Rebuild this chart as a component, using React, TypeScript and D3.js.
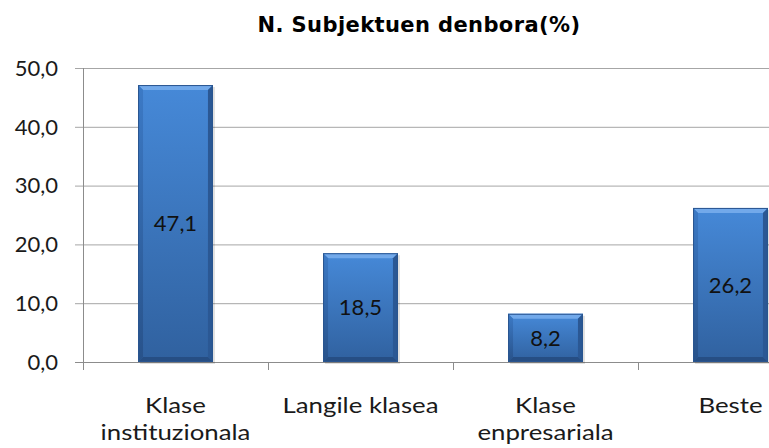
import React, { useEffect } from "react";
import * as d3 from "d3";

const W = 769;
const H = 448;

const title = "N. Subjektuen denbora(%)";
const categories = ["Klase instituzionala", "Langile klasea", "Klase enpresariala", "Beste"];
const categoryLines = [["Klase", "instituzionala"], ["Langile klasea"], ["Klase", "enpresariala"], ["Beste"]];
const values = [47.1, 18.5, 8.2, 26.2];
const yTicks = [0, 10, 20, 30, 40, 50];

const fmt = (v: number) => v.toFixed(1).replace(".", ",");

export default function App() {
  useEffect(() => {
    document.body.style.margin = "0";
  }, []);

  const x = d3.scaleBand<string>().domain(categories).range([83, 823]).paddingInner(0.595).paddingOuter(0.2975);
  const y = d3.scaleLinear().domain([0, 50]).range([362, 68]);
  const step = x.step();
  const bw = x.bandwidth();
  const bev = 5;
  const font = "Lato, Open Sans, sans-serif";

  return (
    <svg width={W} height={H} style={{ display: "block", background: "#fff" }}>
      <defs>
        <linearGradient id="face" x1="0" y1="0" x2="0" y2="1">
          <stop offset="0" stopColor="#4689d8" />
          <stop offset="1" stopColor="#30619f" />
        </linearGradient>
        <linearGradient id="side" x1="0" y1="0" x2="0" y2="1">
          <stop offset="0" stopColor="#3c7ac6" />
          <stop offset="1" stopColor="#28528a" />
        </linearGradient>
      </defs>

      <text x={419} y={32} textAnchor="middle" fontFamily="DejaVu Sans, Verdana, sans-serif"
        fontWeight="bold" fontSize={21} letterSpacing={0.4} fill="#000">{title}</text>

      {yTicks.map((t) => (
        <g key={t}>
          <line x1={75} x2={823} y1={y(t) + 0.5} y2={y(t) + 0.5}
            stroke={t === 0 ? "#8c8c8c" : "#a6a6a6"} strokeWidth={1} />
          <text x={58} y={y(t)} dy="0.35em" textAnchor="end" fontFamily={font}
            fontSize={22} fill="#1a1a1a">{fmt(t)}</text>
        </g>
      ))}
      <line x1={83.5} x2={83.5} y1={68} y2={370} stroke="#8c8c8c" />
      {categories.map((c, i) => (
        i > 0 ? <line key={c} x1={x(c)! - (step - bw) / 2 + 0.5} x2={x(c)! - (step - bw) / 2 + 0.5}
          y1={362} y2={370} stroke="#8c8c8c" /> : null
      ))}

      {categories.map((c, i) => {
        const x0 = x(c)!;
        const x1 = x0 + bw;
        const y0 = y(values[i]);
        const y1 = y(0);
        return (
          <g key={c}>
            <rect x={x0 + 2} y={y0 + 2} width={bw} height={y1 - y0} fill="#000" opacity={0.12} />
            <rect x={x0} y={y0} width={bw} height={y1 - y0} fill="url(#face)" />
            <polygon points={`${x0},${y0} ${x1},${y0} ${x1 - bev},${y0 + bev} ${x0 + bev},${y0 + bev}`} fill="#72a9ea" />
            <polygon points={`${x0},${y0} ${x0 + bev},${y0 + bev} ${x0 + bev},${y1 - bev} ${x0},${y1}`} fill="url(#side)" />
            <polygon points={`${x1},${y0} ${x1 - bev},${y0 + bev} ${x1 - bev},${y1 - bev} ${x1},${y1}`} fill="#2b5894" />
            <polygon points={`${x0},${y1} ${x0 + bev},${y1 - bev} ${x1 - bev},${y1 - bev} ${x1},${y1}`} fill="#264e84" />
            <rect x={x0 + 0.5} y={y0 + 0.5} width={bw - 1} height={y1 - y0 - 1} fill="none" stroke="#2a5590" strokeWidth={1} />
            <text x={x0 + bw / 2} y={(y0 + y1) / 2} dy="0.35em" textAnchor="middle"
              fontFamily={font} fontSize={22} fill="#111">{fmt(values[i])}</text>
            {categoryLines[i].map((ln, k) => (
              <text key={k} transform={`translate(${x0 + bw / 2},${413 + k * 27}) scale(1.2,1)`} textAnchor="middle"
                fontFamily={font} fontSize={21.5} fill="#1a1a1a">{ln}</text>
            ))}
          </g>
        );
      })}
    </svg>
  );
}
